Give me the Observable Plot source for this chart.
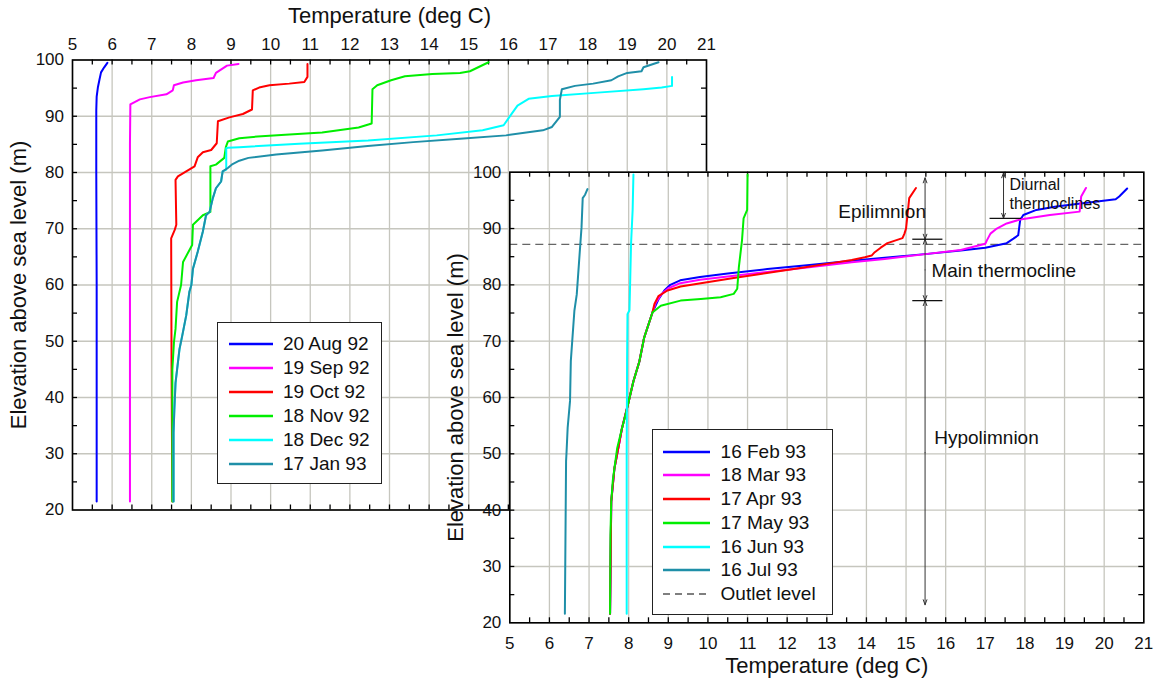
<!DOCTYPE html>
<html><head><meta charset="utf-8">
<script src="https://cdn.jsdelivr.net/npm/d3@7"></script>
<script src="https://cdn.jsdelivr.net/npm/@observablehq/plot@0.6"></script>
<style>
body{margin:0;background:#fff;font-family:'Liberation Sans',Arial,Helvetica,sans-serif;}
#wrap{position:relative;width:1164px;height:681px;overflow:hidden;background:#fff;}
#wrap svg.plt{position:absolute;left:0;top:0;}
.legend{position:absolute;background:#fff;border:1.6px solid #222;box-sizing:border-box;}
.legend .row{position:absolute;left:0;right:0;height:24px;}
.legend .row svg{position:absolute;top:0;}
.legend .row span{position:absolute;top:0;line-height:24px;font-size:19px;color:#111;white-space:nowrap;}
</style></head><body><div id="wrap"></div>
<script>
// ---------- axis / tick values ----------
const xLabels = d3.range(5, 22);            // 5 .. 21 deg C
const yLabels = d3.range(20, 101, 10);      // 20 .. 100 m
const xMinor = d3.range(5.5, 21, 0.5);
const yMinor = d3.range(25, 100, 5);

// ---------- left panel: Aug 92 - Jan 93, [temperature, elevation] ----------
const leftNames = ["20 Aug 92", "19 Sep 92", "19 Oct 92", "18 Nov 92", "18 Dec 92", "17 Jan 93"];
const aug92 = [[5.88,99.5],[5.8,98.7],[5.72,97.8],[5.68,96.5],[5.64,95.1],[5.61,93.5],[5.6,91],[5.6,80],[5.61,60],[5.61,21.5]];
const sep92 = [[9.19,99.3],[8.9,99.0],[8.62,97.7],[8.56,96.8],[8.12,96.4],[7.79,96.0],[7.56,95.5],[7.53,94.6],[7.37,93.9],[6.95,93.4],[6.7,93.0],[6.46,92.1],[6.45,85],[6.45,21.5]];
const oct92 = [[10.93,99.3],[10.93,97.0],[10.85,96.1],[10.47,95.8],[9.97,95.5],[9.71,95.1],[9.55,94.6],[9.53,91.2],[9.3,90.4],[8.96,89.8],[8.67,89.1],[8.64,85.2],[8.5,84.0],[8.29,83.6],[8.16,82.7],[8.08,81.1],[7.87,80.2],[7.66,79.3],[7.6,78.7],[7.62,70.7],[7.58,69.8],[7.49,68.3],[7.5,45],[7.52,21.5]];
const nov92 = [[15.5,99.6],[15.03,98.0],[14.78,97.7],[14.08,97.5],[13.39,97.1],[13.04,96.4],[12.69,95.5],[12.57,94.8],[12.55,88.7],[12.22,88.0],[11.3,87.1],[10.37,86.7],[9.67,86.4],[9.21,86.1],[8.92,85.5],[8.87,84.5],[8.83,82.6],[8.62,81.4],[8.48,81.1],[8.48,73.0],[8.29,72.4],[8.04,70.7],[8.02,67.1],[7.79,64.1],[7.74,60.0],[7.64,57.0],[7.6,52.2],[7.56,49.8],[7.52,45],[7.52,21.5]];
const dec92 = [[20.13,97.0],[20.13,95.4],[19.87,95.1],[19.41,94.8],[18.25,94.2],[17.1,93.6],[16.51,93.1],[16.23,91.9],[16.05,90.1],[15.88,88.4],[15.35,87.5],[14.19,86.6],[12.46,85.7],[10.72,85.1],[9.21,84.5],[8.92,84.4],[8.88,84.3],[8.88,80.5],[8.79,80.2],[8.75,78.4],[8.62,77.2],[8.54,75.4],[8.46,73.0],[8.37,72.4],[8.29,69.5],[8.16,65.9],[8.04,62.9],[8.0,60],[7.95,58.8],[7.87,54.6],[7.77,51.0],[7.7,48.6],[7.66,46.2],[7.6,42.6],[7.57,37.8],[7.55,33.7],[7.55,21.5]];
const jan93 = [[19.79,99.6],[19.41,98.7],[19.36,98.0],[19.0,97.7],[18.77,97.1],[18.6,96.4],[18.14,95.8],[17.68,95.4],[17.35,94.8],[17.3,92.9],[17.3,89.9],[17.1,88.1],[16.87,87.5],[15.94,86.6],[14.78,86.0],[13.6,85.4],[12.45,84.7],[11.3,83.9],[10.14,83.2],[9.44,82.6],[9.21,82.1],[9.04,81.5],[8.92,80.8],[8.79,80.2],[8.75,78.4],[8.62,77.2],[8.54,75.4],[8.46,73.0],[8.37,72.4],[8.29,69.5],[8.16,65.9],[8.04,62.9],[8.0,60],[7.95,58.8],[7.87,54.6],[7.77,51.0],[7.7,48.6],[7.66,46.2],[7.6,42.6],[7.57,37.8],[7.55,33.7],[7.55,21.5]];

// ---------- right panel: Feb 93 - Jul 93 ----------
const rightNames = ["16 Feb 93", "18 Mar 93", "17 Apr 93", "17 May 93", "16 Jun 93", "16 Jul 93"];
const feb93 = [[20.58,97.1],[20.38,95.7],[20.29,95.2],[19.46,94.5],[18.79,93.9],[18.29,93.3],[17.96,92.4],[17.88,91.5],[17.83,88.8],[17.71,88.2],[17.54,87.4],[17.0,86.6],[16.38,86.1],[15.54,85.5],[14.46,84.8],[13.63,84.3],[12.5,83.5],[11.5,82.8],[10.5,82.0],[9.8,81.4],[9.3,80.8],[9.05,80.0],[8.9,79.0],[8.75,77.4],[8.6,75.1],[8.39,70.6],[8.27,66.4],[8.12,62.9],[8.0,59.3],[7.83,54.5],[7.64,47.4],[7.56,41.5],[7.53,21.6]];
const mar93 = [[19.54,97.2],[19.42,95.7],[19.38,93.0],[18.63,92.4],[17.88,91.6],[17.54,90.9],[17.29,90.0],[17.13,89.1],[17.04,87.9],[17.0,87.3],[16.38,86.2],[15.54,85.5],[14.46,84.6],[13.63,84.0],[12.5,83.1],[11.5,82.3],[10.5,81.5],[9.8,80.9],[9.3,80.3],[9.0,79.4],[8.82,78.3],[8.68,76.8],[8.6,75.1],[8.39,70.6],[8.27,66.4],[8.12,62.9],[8.0,59.3],[7.83,54.5],[7.64,47.4],[7.56,41.5],[7.53,21.6]];
const apr93 = [[15.25,97.2],[15.08,95.4],[15.0,90.0],[14.96,89.1],[14.91,88.3],[14.53,87.4],[14.36,86.6],[14.21,85.8],[14.13,85.2],[13.96,84.9],[13.63,84.4],[13.16,83.9],[12.33,83.0],[11.49,82.1],[10.65,81.2],[9.82,80.3],[9.31,79.7],[8.98,79.0],[8.75,78.0],[8.65,76.6],[8.6,75.1],[8.39,70.6],[8.27,66.4],[8.12,62.9],[8.0,59.3],[7.83,54.5],[7.64,47.4],[7.56,41.5],[7.53,21.6]];
const may93 = [[11.0,99.6],[10.99,93.3],[10.9,91.8],[10.86,87.9],[10.78,83.1],[10.74,79.3],[10.65,78.4],[10.32,77.8],[9.82,77.5],[9.31,77.2],[8.81,76.3],[8.6,75.1],[8.39,70.6],[8.27,66.4],[8.12,62.9],[8.0,59.3],[7.92,56.9],[7.83,54.5],[7.71,51.0],[7.64,47.4],[7.6,45.3],[7.56,41.5],[7.54,35.6],[7.53,21.6]];
const jun93 = [[8.12,99.6],[8.1,93.3],[8.06,87.3],[8.04,81.3],[8.02,75.5],[7.97,74.8],[7.96,66.4],[7.95,50],[7.95,21.6]];
const jul93 = [[6.96,97.0],[6.9,96.0],[6.84,95.4],[6.81,90.2],[6.75,84.3],[6.69,78.3],[6.63,75.4],[6.54,66.5],[6.52,59.4],[6.46,54.6],[6.43,50],[6.42,48.7],[6.39,21.6]];

const colors = ["#0000ff", "#ff00ff", "#ff0000", "#00ee00", "#00ffff", "#1f8fa8"];

// ---------- right-panel annotations ----------
const outletLevel = [87.2];
const zones = [
  {T: 15.48, top: 99.0, bottom: 88.1},   // epilimnion
  {T: 15.48, top: 88.1, bottom: 77.2},   // main thermocline
  {T: 15.48, top: 77.2, bottom: 23.2},   // hypolimnion
  {T: 17.46, top: 99.9, bottom: 91.8}    // diurnal thermoclines
];
const separators = [
  {E: 88.1, T1: 15.17, T2: 15.93},
  {E: 77.2, T1: 15.17, T2: 15.93},
  {E: 91.8, T1: 17.12, T2: 17.92}
];
const bigNotes = [
  {text: "Epilimnion", T: 13.29, E: 92.9},
  {text: "Main thermocline", T: 15.64, E: 82.5},
  {text: "Hypolimnion", T: 15.71, E: 52.8}
];
const smallNotes = [
  {text: "Diurnal", T: 17.61, E: 97.8},
  {text: "thermoclines", T: 17.61, E: 94.4}
];

// ---------- drawing ----------
const W = 1164, H = 681;
const gridColor = "#c6c6be";
const font = "'Liberation Sans', Arial, Helvetica, sans-serif";
const wrap = document.getElementById("wrap");
const toRows = pts => pts.map(([T, E]) => ({T, E}));

function panel({series, m, xAnchor, whiteFrame, extra = [], overlay = []}) {
  const fw = W - m.left - m.right, fh = H - m.top - m.bottom;
  const marks = [];
  if (whiteFrame) marks.push(Plot.frame({fill: "white", stroke: "none"}));
  marks.push(
    Plot.ruleX(xLabels, {stroke: gridColor, strokeWidth: 1.3}),
    Plot.ruleY(yLabels, {stroke: gridColor, strokeWidth: 1.3}),
    Plot.tickX(xMinor, {x: d => d, insetBottom: fh - 5, stroke: "#000", strokeWidth: 1.3}),
    Plot.tickX(xMinor, {x: d => d, insetTop: fh - 5, stroke: "#000", strokeWidth: 1.3}),
    Plot.tickY(yMinor, {y: d => d, insetRight: fw - 5, stroke: "#000", strokeWidth: 1.3}),
    Plot.tickY(yMinor, {y: d => d, insetLeft: fw - 5, stroke: "#000", strokeWidth: 1.3}),
    ...extra
  );
  series.forEach((pts, i) => marks.push(Plot.line(toRows(pts), {x: "T", y: "E", stroke: colors[i], strokeWidth: 2, curve: "linear"})));
  marks.push(
    ...overlay,
    Plot.frame({stroke: "#000", strokeWidth: 1.6}),
    Plot.axisX(xLabels, {anchor: xAnchor, tickSize: 0, tickPadding: xAnchor === "top" ? 10 : 14, fontSize: 17, label: null}),
    Plot.axisY(yLabels, {anchor: "left", tickSize: 0, tickPadding: 8.5, fontSize: 17, label: null}),
    Plot.text(["Temperature (deg C)"], {frameAnchor: xAnchor, dy: xAnchor === "top" ? -44.5 : 43, fontSize: 22, lineAnchor: "middle", textAnchor: "middle"}),
    Plot.text(["Elevation above sea level (m)"], {frameAnchor: "left", dx: -54, rotate: -90, fontSize: 22, lineAnchor: "middle", textAnchor: "middle"})
  );
  const svg = Plot.plot({
    width: W, height: H,
    marginLeft: m.left, marginRight: m.right, marginTop: m.top, marginBottom: m.bottom,
    x: {domain: [5, 21]},
    y: {domain: [20, 100]},
    style: {fontFamily: font, fontSize: "17px", background: "transparent", overflow: "visible", color: "#111"},
    marks
  });
  svg.classList.add("plt");
  wrap.appendChild(svg);
}

function legend({names, cols, box, rowTop, rowStep, sampleX, sampleW, textX, dashed}) {
  const div = document.createElement("div");
  div.className = "legend";
  Object.assign(div.style, {left: box.x + "px", top: box.y + "px", width: box.w + "px", height: box.h + "px"});
  const entries = names.map((n, i) => ({n, c: cols[i], dash: null}));
  if (dashed) entries.push({n: dashed, c: "#555", dash: "7,5"});
  entries.forEach((e, i) => {
    const r = document.createElement("div");
    r.className = "row";
    r.style.top = (rowTop + i * rowStep - 12) + "px";
    r.innerHTML = `<svg width="${sampleW + 4}" height="24" style="left:${sampleX - 2}px"><line x1="2" x2="${sampleW + 2}" y1="12" y2="12" stroke="${e.c}" stroke-width="${e.dash ? 1.3 : 2.5}" ${e.dash ? `stroke-dasharray="${e.dash}"` : ""}/></svg><span style="left:${textX}px">${e.n}</span>`;
    div.appendChild(r);
  });
  wrap.appendChild(div);
}

// left panel
panel({
  series: [aug92, sep92, oct92, nov92, dec92, jan93],
  m: {left: 72, right: 458, top: 59.5, bottom: 171.5},
  xAnchor: "top", whiteFrame: false
});
legend({names: leftNames, cols: colors, box: {x: 216.7, y: 321.7, w: 165, h: 162.3},
  rowTop: 21.6, rowStep: 23.9, sampleX: 11.3, sampleW: 44, textX: 65.3});

// right panel
const mid = z => (z.top + z.bottom) / 2;
panel({
  series: [feb93, mar93, apr93, may93, jun93, jul93],
  m: {left: 509.3, right: 20.7, top: 171.7, bottom: 58.7},
  xAnchor: "bottom", whiteFrame: true,
  extra: [
    Plot.ruleY(outletLevel, {stroke: "#666", strokeWidth: 1.3, strokeDasharray: "8,5"})
  ],
  overlay: [
    Plot.arrow(zones, {x1: "T", x2: "T", y1: mid, y2: "top", stroke: "#333", strokeWidth: 1, headLength: 8, headAngle: 40}),
    Plot.arrow(zones, {x1: "T", x2: "T", y1: mid, y2: "bottom", stroke: "#333", strokeWidth: 1, headLength: 8, headAngle: 40}),
    Plot.ruleY(separators, {y: "E", x1: "T1", x2: "T2", stroke: "#111", strokeWidth: 1.3}),
    Plot.text(bigNotes, {x: "T", y: "E", text: "text", textAnchor: "start", fontSize: 19, fill: "#111"}),
    Plot.text(smallNotes, {x: "T", y: "E", text: "text", textAnchor: "start", fontSize: 16, fill: "#111"})
  ]
});
legend({names: rightNames, cols: colors, box: {x: 651.6, y: 429, w: 181, h: 186},
  rowTop: 21.7, rowStep: 23.7, sampleX: 10.2, sampleW: 47, textX: 68, dashed: "Outlet level"});
</script></body></html>
